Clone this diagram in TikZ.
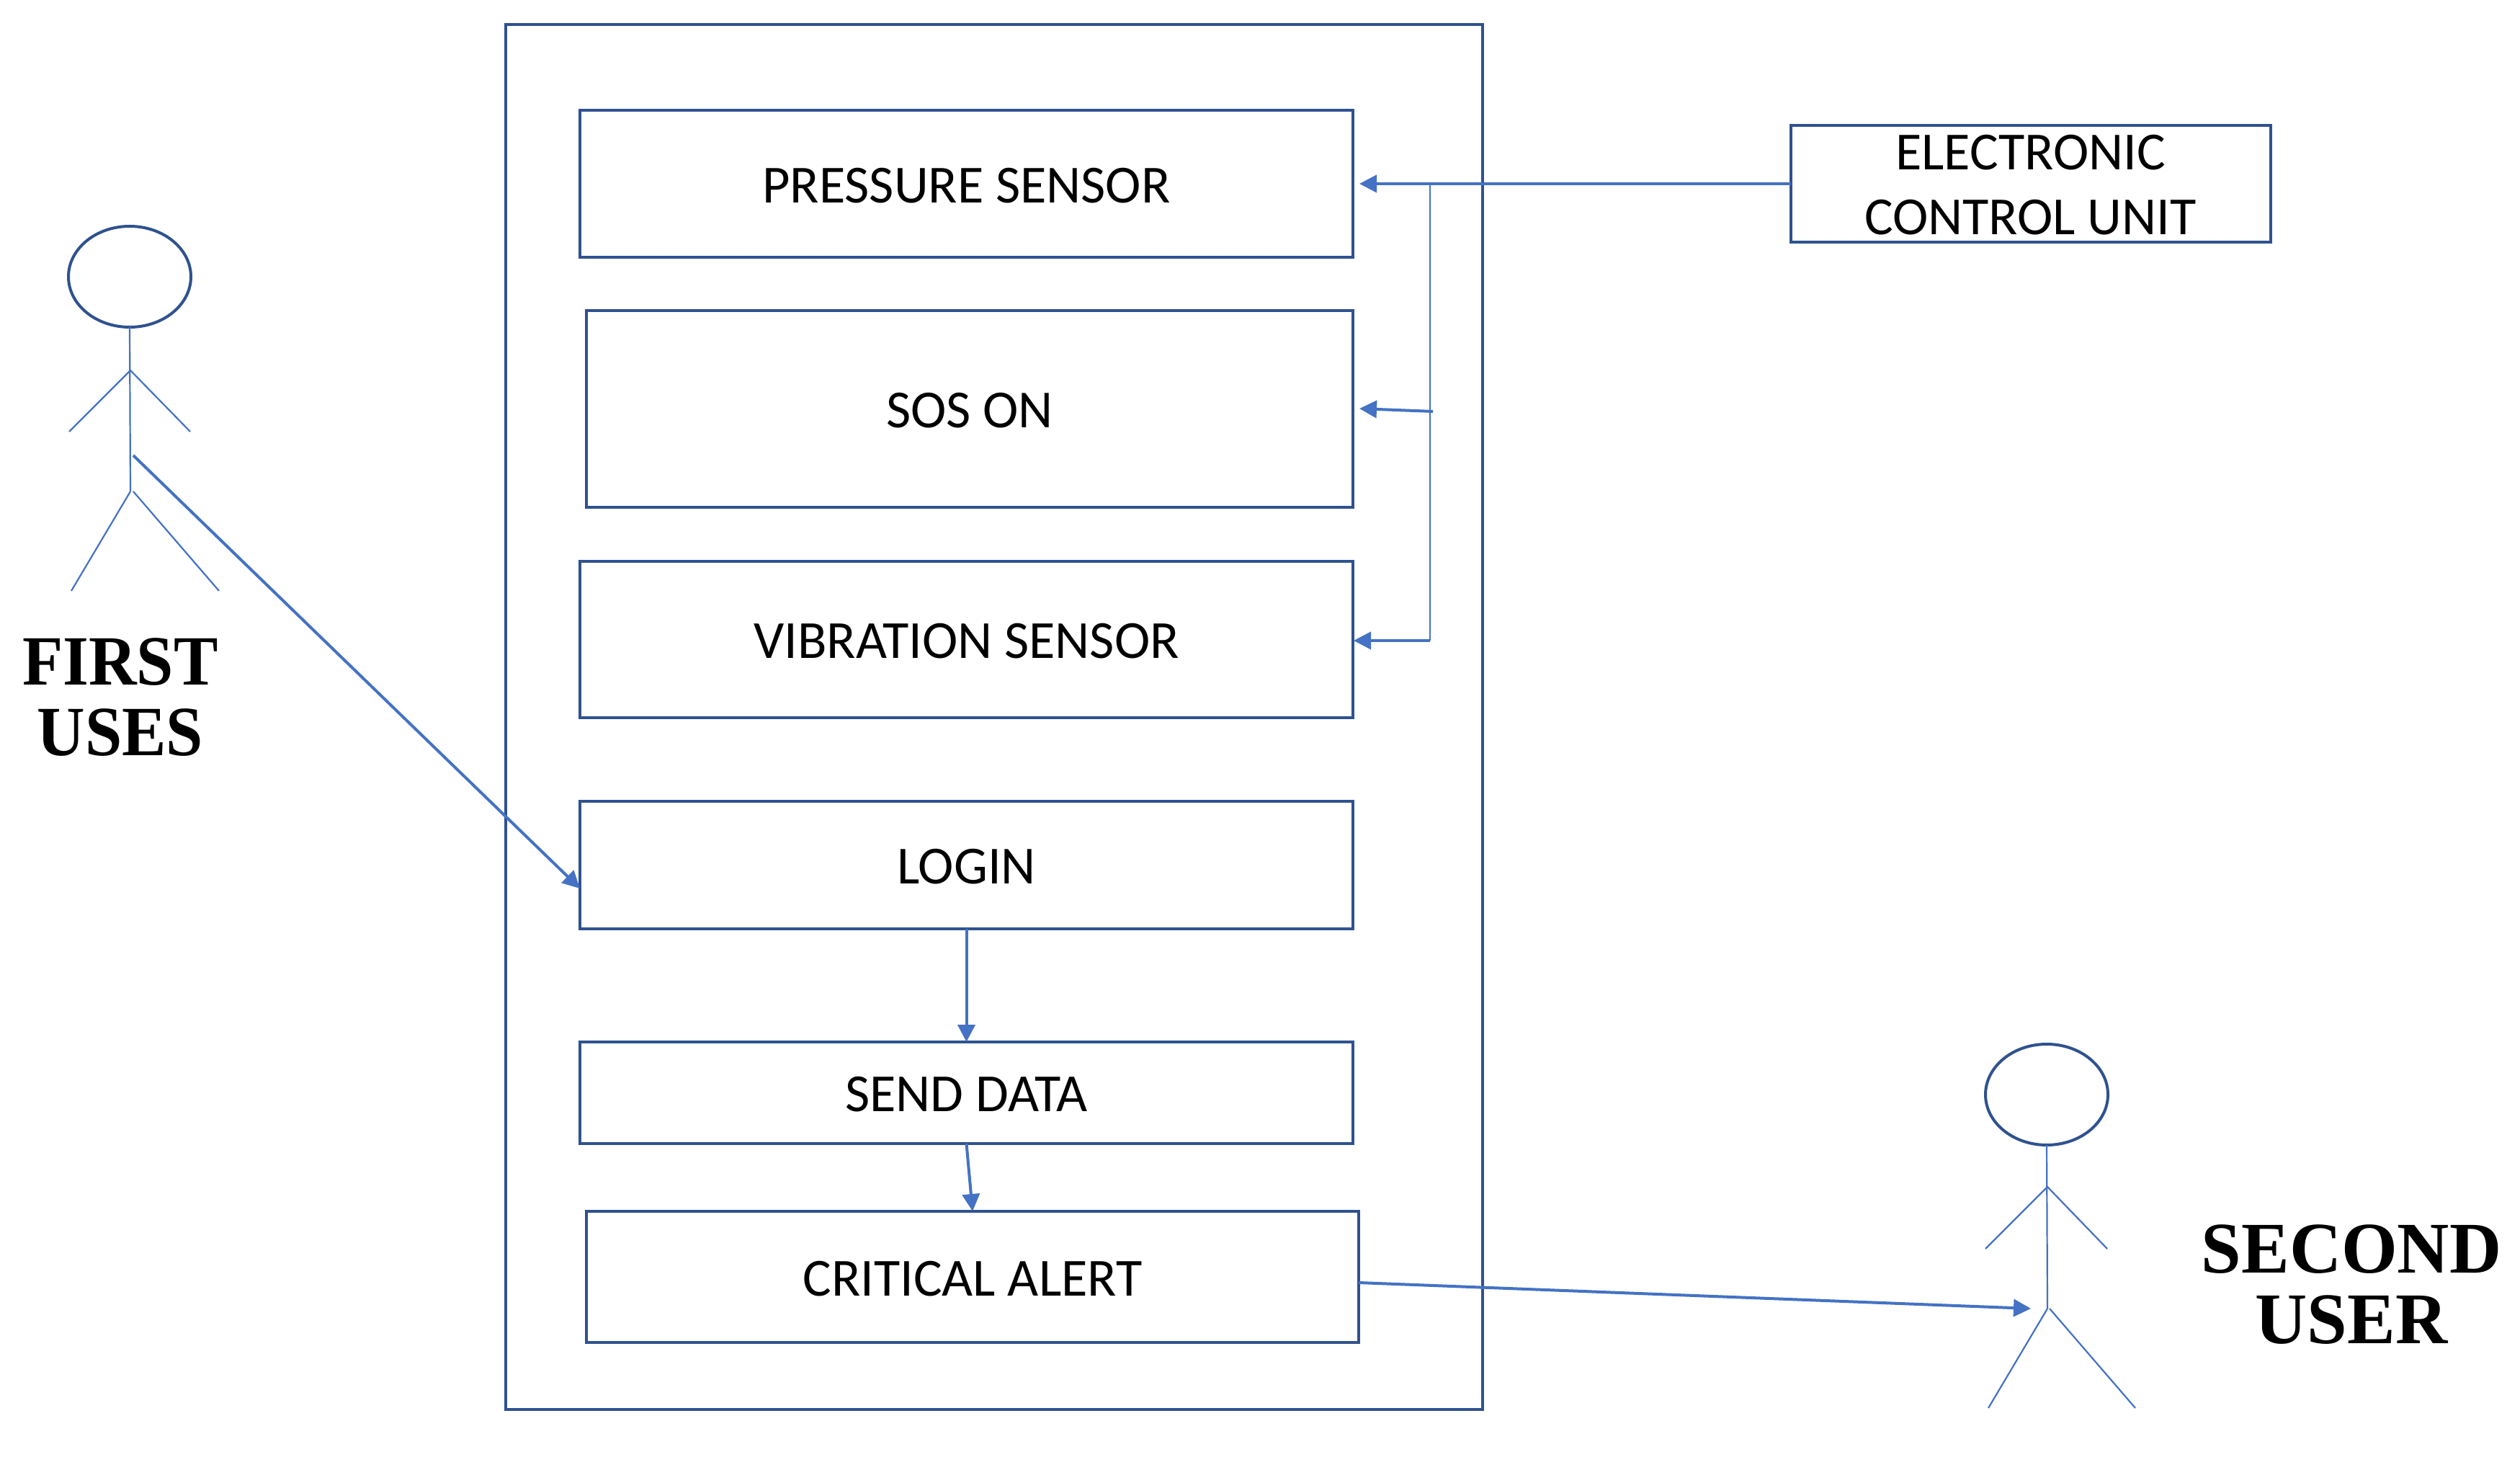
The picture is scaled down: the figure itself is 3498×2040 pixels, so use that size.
\documentclass[tikz,border=0pt]{standalone}
\usepackage{fontspec}
\usetikzlibrary{arrows.meta,shapes.geometric}
\setmainfont{Carlito}
\newfontfamily\labelfont{Liberation Serif}[BoldFont={Liberation Serif Bold}]
\definecolor{boxblue}{HTML}{2F528F}
\definecolor{linkblue}{HTML}{4472C4}
\tikzset{
  x=0.25pt,y=-0.25pt,
  frame/.style={draw=boxblue,line width=1pt,fill=none,inner sep=0pt,outer sep=0pt,rectangle},
  boxfont/.style={font=\fontsize{18.6}{22.5}\selectfont,align=center,text=black},
  boxtext/.style={boxfont,text height=13.1pt,text depth=0pt},
  link/.style={draw=linkblue,line width=1pt,-{Triangle[length=6pt,width=6pt]}},
  plainlink/.style={draw=linkblue,line width=0.7pt},
  limb/.style={draw=linkblue,line width=0.55pt},
  headshape/.style={ellipse,draw=boxblue,line width=1pt,inner sep=0pt,outer sep=0pt},
  actorlabel/.style={font=\labelfont\bfseries\fontsize{24.5}{24.5}\selectfont,align=center,text=black,inner sep=0pt},
}
\newcommand{\boxat}[6]{\node[frame,boxtext,minimum width=#4*0.25pt,minimum height=#5*0.25pt] (#1) at (#2,#3) {#6};}
\begin{document}
\begin{tikzpicture}
\useasboundingbox[fill=white] (0,0) rectangle (3498,2040);
% outer system box
\node[frame,minimum width=1356*0.25pt,minimum height=1922*0.25pt] (system) at (1380,995) {};
% inner boxes
\boxat{pressure}{1341.5}{255}{1073}{204}{PRESSURE SENSOR}
\boxat{sos}{1346}{567.5}{1064}{273}{SOS ON}
\boxat{vibration}{1341.5}{887.5}{1073}{217}{VIBRATION SENSOR}
\boxat{login}{1341.5}{1200.5}{1073}{177}{LOGIN}
\boxat{send}{1341.5}{1516.5}{1073}{141}{SEND DATA}
\boxat{critical}{1350}{1772}{1072}{182}{CRITICAL ALERT}
\node[frame,boxfont,minimum width=666*0.25pt,minimum height=162*0.25pt] (ecu) at (2818.5,255) {\rule{0pt}{13.1pt}ELECTRONIC\\CONTROL UNIT};
% first actor
\node[headshape,minimum width=170*0.25pt,minimum height=140*0.25pt] (head1) at (180,384) {};
\coordinate (shoulder1) at (181,514);
\coordinate (hip1) at (181,682);
\coordinate (hand1l) at (96,599);
\coordinate (hand1r) at (264,599);
\coordinate (foot1l) at (99,820);
\coordinate (hip1r) at (185,682);
\coordinate (foot1r) at (304,820);
\draw[limb] (head1.south) -- (hip1);
\draw[limb] (hand1l) -- (shoulder1) -- (hand1r);
\draw[limb] (hip1) -- (foot1l);
\draw[limb] (hip1r) -- (foot1r);
\node[actorlabel] (first) at (167,968) {\scalebox{.94}[1]{FIRST}\\[0pt]\scalebox{.94}[1]{USES}};
% second actor
\node[headshape,minimum width=170*0.25pt,minimum height=140*0.25pt] (head2) at (2841,1519) {};
\coordinate (shoulder2) at (2842,1647);
\coordinate (hip2) at (2842,1816);
\coordinate (hand2l) at (2756,1733);
\coordinate (hand2r) at (2925,1733);
\coordinate (foot2l) at (2760,1954);
\coordinate (hip2r) at (2845,1816);
\coordinate (foot2r) at (2964,1954);
\draw[limb] (head2.south) -- (hip2);
\draw[limb] (hand2l) -- (shoulder2) -- (hand2r);
\draw[limb] (hip2) -- (foot2l);
\draw[limb] (hip2r) -- (foot2r);
\node[actorlabel] (second) at (3264,1783) {\scalebox{1.02}[1.03]{SECOND}\\[0pt]\scalebox{1.02}[1.03]{USER}};
% connectors
\coordinate (firstout) at (185,632);
\coordinate (loginin) at (805,1233);
\draw[link] (firstout) -- (loginin);
\draw[link,shorten >=9*0.25pt] (ecu.west) -- (pressure.east);
\coordinate (busTop) at (1985,255);
\coordinate (busBottom) at (1985,889);
\coordinate (sosOut) at (1989,571);
\coordinate (sosIn) at (1887,567);
\coordinate (vibIn) at (1879,889);
\draw[plainlink] (busTop) -- (busBottom);
\draw[link] (busBottom) -- (vibIn);
\draw[link] (sosOut) -- (sosIn);
\draw[link] (login.south) -- (send.north);
\draw[link] (send.south) -- (critical.north);
\coordinate (critOut) at (1886,1780);
\coordinate (userIn) at (2819,1816);
\draw[link] (critOut) -- (userIn);
\end{tikzpicture}
\end{document}
